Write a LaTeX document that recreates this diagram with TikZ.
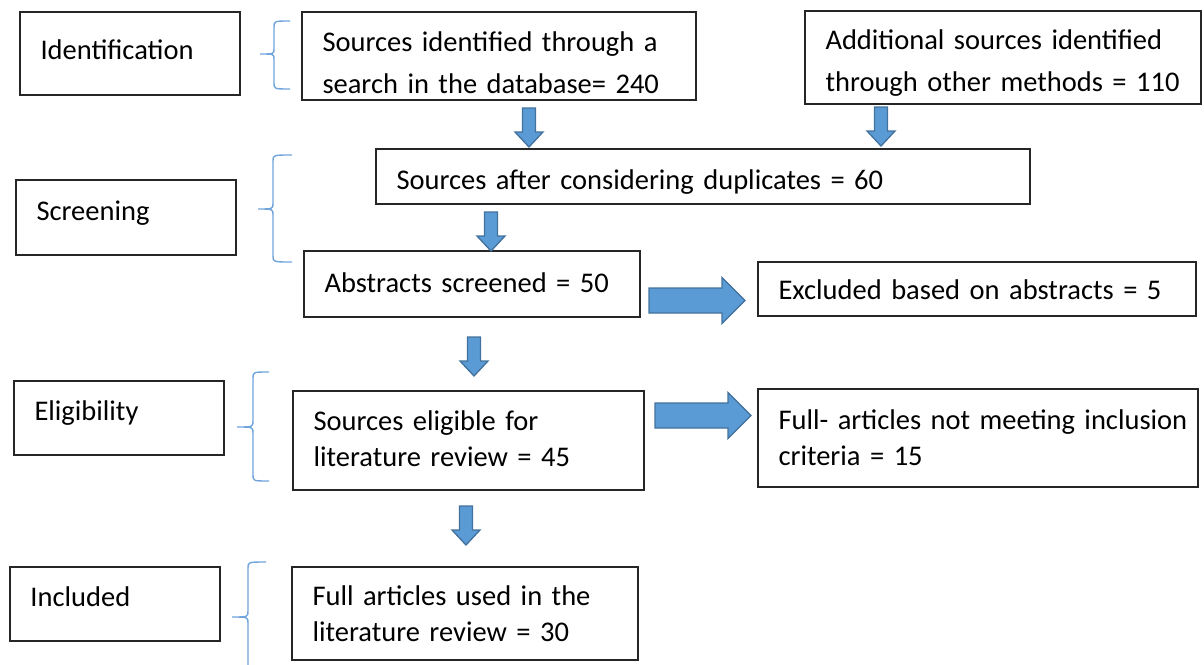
\documentclass[tikz,border=0pt]{standalone}
\usepackage{fontspec}
\setmainfont{Carlito}
\begin{document}
\begin{tikzpicture}[x=1pt,y=-1pt,
  box/.style={draw=black!85,line width=1.2pt,inner xsep=20.5pt,inner ysep=0pt,align=left,text height=28pt,font=\fontsize{28.5}{41.7}\selectfont},
  boxb/.style={box,font=\fontsize{28.5}{36}\selectfont},
  brc/.style={draw={rgb,255:red,111;green,164;blue,220},line width=1.4pt},
  arr/.style={draw={rgb,255:red,65;green,113;blue,156},fill={rgb,255:red,91;green,155;blue,213},line width=1.3pt,line join=miter},
  darr/.pic={\draw[arr] (-6.5,0) -- (6.5,0) -- (6.5,24) -- (14,24) -- (0,39) -- (-14,24) -- (-6.5,24) -- cycle;},
  rarr/.pic={\draw[arr] (0,-12.5) -- (73,-12.5) -- (73,-23) -- (96,0) -- (73,23) -- (73,12.5) -- (0,12.5) -- cycle;}
]
\useasboundingbox (0,0) rectangle (1204,664);
% label boxes
\node[box,text depth=15.6pt,text width=179pt,minimum height=83pt] (id) at (130,53.5) {Identification};
\node[box,text depth=22pt,text width=179pt,minimum height=75pt] (scr) at (126,217.5) {Screening};
\node[box,text depth=23pt,text width=169pt,minimum height=74pt] (elig) at (119,418) {Eligibility};
\node[box,text depth=23pt,text width=169pt,minimum height=74pt] (incl) at (115,604) {Included};
% flow boxes
\node[box,text depth=37.2pt,text width=353pt,minimum height=88pt] (a) at (499,56) {\mbox{Sources identified through a}\\\mbox{search in the database= 240}};
\node[box,text depth=44pt,text width=355pt,minimum height=93pt] (b) at (1003,57.5) {\mbox{Additional sources identified}\\\mbox{through other methods = 110}};
\node[box,text depth=3pt,text width=613pt,minimum height=55pt] (c) at (703,176.5) {Sources after considering duplicates = 60};
\node[box,text depth=11.4pt,text width=295pt,minimum height=66pt] (d) at (472,284) {Abstracts screened = 50};
\node[box,text depth=8pt,text width=397pt,minimum height=54pt] (e) at (977,289) {\mbox{Excluded based on abstracts = 5}};
\node[boxb,text depth=48.4pt,text width=310pt,minimum height=99pt] (f) at (468.5,440.5) {\mbox{Sources eligible for}\\\mbox{literature review = 45}};
\node[boxb,text depth=45pt,text width=399pt,minimum height=98pt] (g) at (978,438) {\mbox{Full- articles not meeting inclusion}\\\mbox{criteria = 15}};
\node[boxb,text depth=44pt,text width=305pt,minimum height=93pt] (h) at (465,613.5) {\mbox{Full articles used in the}\\\mbox{literature review = 30}};
% braces
\draw[brc] (290,21) .. controls (274,21) .. (274,27) -- (274,49) .. controls (274,54) .. (260,54)
           .. controls (274,54) .. (274,59) -- (274,83) .. controls (274,89) .. (290,89);
\draw[brc] (292,155) .. controls (273,155) .. (273,161) -- (273,203) .. controls (273,209) .. (258,209)
           .. controls (273,209) .. (273,215) -- (273,256) .. controls (273,262) .. (292,262);
\draw[brc] (269,372) .. controls (253,372) .. (253,378) -- (253,421) .. controls (253,427) .. (237,427)
           .. controls (253,427) .. (253,433) -- (253,475) .. controls (253,481) .. (269,481);
\draw[brc] (266,562) .. controls (248,562) .. (248,568) -- (248,611) .. controls (248,617) .. (232,617)
           .. controls (248,617) .. (248,623) -- (248,670);
% arrows
\pic at (529,108) {darr};
\pic at (881,107) {darr};
\pic at (491,212) {darr};
\pic at (474,337) {darr};
\pic at (466,506) {darr};
\pic at (649,300.5) {rarr};
\pic at (655,415.5) {rarr};
\end{tikzpicture}
\end{document}
